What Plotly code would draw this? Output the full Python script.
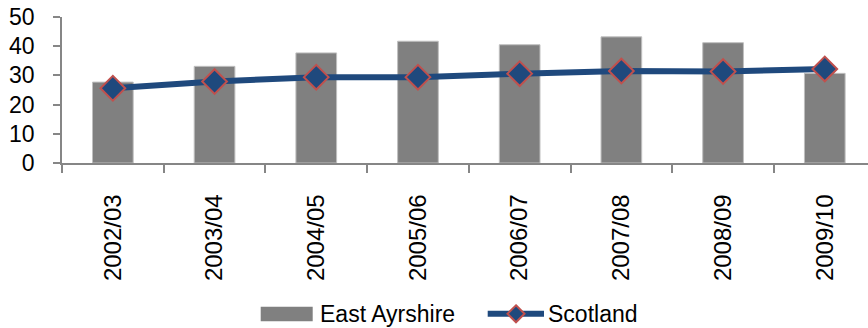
import plotly.graph_objects as go

categories = ["2002/03", "2003/04", "2004/05", "2005/06", "2006/07", "2007/08", "2008/09", "2009/10"]
east_ayrshire = [27.7, 33.1, 37.7, 41.7, 40.5, 43.2, 41.2, 30.7]
scotland = [25.6, 27.9, 29.4, 29.4, 30.6, 31.5, 31.3, 32.2]
series_names = ["East Ayrshire", "Scotland"]

FONT = "Liberation Sans"
BAR_COLOR = "#808080"
LINE_COLOR = "#1F497D"
EDGE_COLOR = "#C0504D"

# plot area geometry (pixels)
L, R, T, B = 62, 868, 17, 163.5
W, H = R - L, B - T


def px(xp):
    return (xp - L) / W


def py(yp):
    return (B - yp) / H


fig = go.Figure()
fig.add_trace(go.Bar(
    x=categories, y=east_ayrshire, name=series_names[0],
    marker=dict(color=BAR_COLOR, line=dict(color="#BFBFBF", width=1)),
    width=0.4,
))
fig.add_trace(go.Scatter(
    x=categories, y=scotland, name=series_names[1], mode="lines+markers",
    line=dict(color=LINE_COLOR, width=6),
    marker=dict(symbol="diamond", size=19, color=LINE_COLOR,
                line=dict(color=EDGE_COLOR, width=2)),
))

# manual legend (Excel style)
ly = 314.8
shapes = [
    dict(type="rect", xref="paper", yref="paper",
         x0=px(260.7), x1=px(312.7), y0=py(322.3), y1=py(307.7),
         fillcolor=BAR_COLOR, line=dict(width=0)),
    dict(type="line", xref="paper", yref="paper",
         x0=px(487.7), x1=px(544), y0=py(ly), y1=py(ly),
         line=dict(color=LINE_COLOR, width=6)),
]
cx, hw = 516, 8.5
shapes.append(dict(
    type="path", xref="paper", yref="paper",
    path=(f"M {px(cx)},{py(ly - hw)} L {px(cx + hw)},{py(ly)} "
          f"L {px(cx)},{py(ly + hw)} L {px(cx - hw)},{py(ly)} Z"),
    fillcolor=LINE_COLOR, line=dict(color=EDGE_COLOR, width=2),
))
annotations = [
    dict(xref="paper", yref="paper", x=px(318), y=py(ly), xanchor="left",
         yanchor="middle", text=series_names[0], showarrow=False,
         font=dict(family=FONT, size=23, color="black")),
    dict(xref="paper", yref="paper", x=px(546), y=py(ly), xanchor="left",
         yanchor="middle", text=series_names[1], showarrow=False,
         font=dict(family=FONT, size=23, color="black")),
]

fig.update_layout(
    width=868, height=328,
    margin=dict(l=L, r=868 - R, t=T, b=328 - B),
    paper_bgcolor="white", plot_bgcolor="white",
    font=dict(family=FONT, size=23, color="black"),
    showlegend=False,
    shapes=shapes, annotations=annotations,
)
fig.update_xaxes(
    type="category", range=[-0.5, 7.425],
    showline=True, linecolor="#868686", linewidth=1.5,
    ticks="outside", ticklen=8, tickcolor="#868686", tickwidth=1.5,
    tickson="boundaries", tickangle=-90,
    tickfont=dict(family=FONT, size=24),
    ticklabelstandoff=20,
    showgrid=False,
)
fig.update_yaxes(
    range=[0, 50], dtick=10,
    showline=True, linecolor="#868686", linewidth=1.5,
    ticks="outside", ticklen=7, tickcolor="#868686", tickwidth=1.5,
    tickfont=dict(family=FONT, size=23),
    ticklabelstandoff=14,
    showgrid=False, zeroline=False,
)

fig.write_html("out.html")
